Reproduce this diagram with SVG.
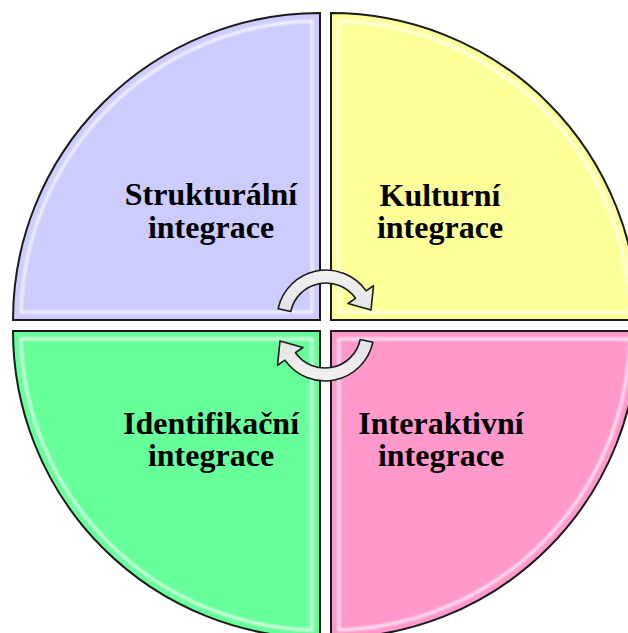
<svg xmlns="http://www.w3.org/2000/svg" width="628" height="633" viewBox="0 0 628 633">
  <defs>
    <style>
      .q { stroke: #1a1a1a; stroke-width: 2; }
      .hl { fill: none; stroke: #ffffff; stroke-width: 3; stroke-opacity: 0.75; filter: url(#soft); }
      .lbl { font-family: "Liberation Serif", "Times New Roman", serif; font-weight: bold; font-size: 32px; fill: #000000; text-anchor: middle; }
      .arr { fill: url(#arrGrad); stroke: #1a1a1a; stroke-width: 1.6; stroke-linejoin: round; }
    </style>
    <filter id="soft" x="-5%" y="-5%" width="110%" height="110%">
      <feGaussianBlur stdDeviation="0.9"/>
    </filter>
    <linearGradient id="arrGrad" x1="0" y1="0" x2="0" y2="1">
      <stop offset="0" stop-color="#f2f2f2"/>
      <stop offset="1" stop-color="#e2e2e2"/>
    </linearGradient>
    <path id="arrowShape" d="M 278.1,308.8 A 49,49 0 0 1 366.1,290.9 L 373.5,285.7 L 371,310 L 348,303.5 L 355.5,298.3 A 36,36 0 0 0 290.8,311.5 Z"/>
  </defs>

  <rect x="0" y="0" width="628" height="633" fill="#ffffff"/>

  <g id="strukturalni">
    <path class="q" fill="#ccccff" d="M 320,320 L 13,320 A 307,307 0 0 1 320,13 Z"/>
    <path class="hl" d="M 312,312 L 21,312 A 299,299 0 0 1 312,21 Z"/>
    <text class="lbl" x="211" y="205">Strukturální</text>
    <text class="lbl" x="211" y="238">integrace</text>
  </g>

  <g id="kulturni">
    <path class="q" fill="#ffff99" d="M 331,320 L 331,13 A 307,307 0 0 1 638,320 Z"/>
    <path class="hl" d="M 339,312 L 339,21 A 299,299 0 0 1 630,312 Z"/>
    <text class="lbl" x="440" y="206">Kulturní</text>
    <text class="lbl" x="440" y="238">integrace</text>
  </g>

  <g id="identifikacni">
    <path class="q" fill="#66ff99" d="M 320,331 L 320,638 A 307,307 0 0 1 13,331 Z"/>
    <path class="hl" d="M 312,339 L 312,630 A 299,299 0 0 1 21,339 Z"/>
    <text class="lbl" x="211" y="434">Identifikační</text>
    <text class="lbl" x="211" y="466">integrace</text>
  </g>

  <g id="interaktivni">
    <path class="q" fill="#ff99cc" d="M 331,331 L 638,331 A 307,307 0 0 1 331,638 Z"/>
    <path class="hl" d="M 339,339 L 630,339 A 299,299 0 0 1 339,630 Z"/>
    <text class="lbl" x="441" y="434">Interaktivní</text>
    <text class="lbl" x="441" y="466">integrace</text>
  </g>

  <g id="connectors">
    <use href="#arrowShape" class="arr"/>
    <use href="#arrowShape" class="arr" transform="rotate(180 325.5 325.5)"/>
  </g>
</svg>
